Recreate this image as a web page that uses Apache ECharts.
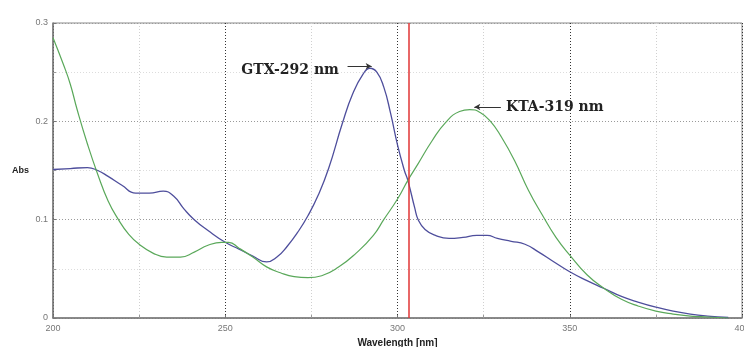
<!DOCTYPE html>
<html>
<head>
<meta charset="utf-8">
<script src="https://cdn.jsdelivr.net/npm/echarts@6/dist/echarts.min.js"></script>
<style>
    html, body { margin: 0; padding: 0; background: #fff; }
    #spectrum { width: 744px; height: 347px; }
</style>
</head>
<body>
<div id="spectrum"></div>
<script>
// GTX (blue) spectrum
var gtxWave = [200, 205, 210, 213, 216, 220, 224, 228, 232, 235, 238, 241, 245, 250, 254, 258, 262, 265, 268, 271, 274, 277, 280, 284, 287, 290, 292, 294, 296, 298, 300, 302, 303, 305, 306, 308, 311, 315, 319, 323, 326, 329, 333, 337, 341, 345, 350, 355, 360, 365, 370, 375, 380, 385, 390, 396];
var gtxAbs  = [0.151, 0.152, 0.153, 0.150, 0.144, 0.135, 0.127, 0.127, 0.129, 0.124, 0.111, 0.100, 0.089, 0.077, 0.070, 0.063, 0.057, 0.062, 0.073, 0.087, 0.104, 0.125, 0.152, 0.198, 0.228, 0.248, 0.254, 0.250, 0.235, 0.208, 0.176, 0.150, 0.140, 0.112, 0.100, 0.090, 0.084, 0.081, 0.082, 0.084, 0.084, 0.081, 0.078, 0.075, 0.067, 0.058, 0.047, 0.038, 0.030, 0.022, 0.016, 0.011, 0.007, 0.004, 0.002, 0.0005];
// KTA (green) spectrum
var ktaWave = [200, 203, 205, 207, 210, 213, 216, 219, 222, 225, 229, 233, 237, 241, 245, 249, 251, 254, 258, 262, 266, 270, 274, 278, 283, 288, 293, 296, 300, 303, 306, 310, 314, 318, 321, 324, 327, 330, 334, 338, 342, 346, 350, 355, 360, 365, 370, 375, 380, 385, 390, 396];
var ktaAbs  = [0.285, 0.258, 0.238, 0.212, 0.177, 0.146, 0.119, 0.100, 0.085, 0.075, 0.066, 0.062, 0.062, 0.067, 0.074, 0.077, 0.077, 0.071, 0.062, 0.052, 0.046, 0.042, 0.041, 0.043, 0.052, 0.066, 0.084, 0.100, 0.121, 0.140, 0.157, 0.180, 0.199, 0.210, 0.212, 0.209, 0.200, 0.185, 0.160, 0.130, 0.105, 0.082, 0.064, 0.044, 0.030, 0.019, 0.012, 0.007, 0.004, 0.002, 0.001, 0.0];

var markerWave = 303.2;   // red vertical cursor
var gtxPeak = { text: 'GTX-292 nm', at: [283, 0.252], arrow: [[285.5, 0.256], [292.5, 0.256]] };
var ktaPeak = { text: 'KTA-319 nm', at: [331.5, 0.2146], arrow: [[330, 0.2146], [322.3, 0.2146]] };

function zip(xs, ys) {
    var out = [];
    for (var i = 0; i < xs.length; i++) out.push([xs[i], ys[i]]);
    return out;
}

(function () {
    var chart = echarts.init(document.getElementById('spectrum'));
    var peakLabel = {
        show: true,
        fontFamily: 'DejaVu Serif',
        fontWeight: 'bold',
        fontSize: 14,
        color: '#222'
    };
    var option = {
        animation: false,
        grid: {
            left: 53, right: 2, top: 23, bottom: 29,
            outerBoundsMode: 'none',
            show: true, borderColor: '#8a8a8a', borderWidth: 1
        },
        xAxis: {
            type: 'value',
            min: 200, max: 400, interval: 50,
            name: 'Wavelength [nm]',
            nameLocation: 'middle',
            nameGap: 19,
            nameTextStyle: { fontFamily: 'Liberation Sans', fontWeight: 'bold', fontSize: 10, color: '#222' },
            axisLine: { lineStyle: { color: '#777', width: 1.5 } },
            axisTick: { show: true, inside: true, length: 3, lineStyle: { color: '#777' } },
            minorTick: { show: true, splitNumber: 2, length: 3, lineStyle: { color: '#999' } },
            axisLabel: { fontFamily: 'Liberation Sans', fontSize: 9, color: '#777', margin: 6 },
            splitLine: { show: true, lineStyle: { color: '#333', type: [1, 2], width: 1 } },
            minorSplitLine: { show: true, lineStyle: { color: '#d0d0d0', type: [1, 2] } }
        },
        yAxis: {
            type: 'value',
            min: 0, max: 0.3, interval: 0.1,
            name: 'Abs',
            nameLocation: 'middle',
            nameRotate: 0,
            nameGap: 24,
            nameTextStyle: { fontFamily: 'Liberation Sans', fontWeight: 'bold', fontSize: 9, color: '#222' },
            axisLine: { show: true, lineStyle: { color: '#777', width: 1.5 } },
            axisTick: { show: true, inside: true, length: 3, lineStyle: { color: '#777' } },
            minorTick: { show: true, splitNumber: 2, length: 3, lineStyle: { color: '#999' } },
            axisLabel: {
                fontFamily: 'Liberation Sans', fontSize: 9, color: '#777', margin: 5,
                formatter: function (v) { return v === 0 ? '0' : v.toFixed(1); }
            },
            splitLine: { show: true, lineStyle: { color: '#9a9a9a', type: [1, 2] } },
            minorSplitLine: { show: true, lineStyle: { color: '#dcdcdc', type: [1, 2] } }
        },
        series: [
            {
                name: 'GTX',
                type: 'line',
                data: zip(gtxWave, gtxAbs),
                smooth: 0.5,
                showSymbol: false,
                lineStyle: { color: '#4e4e9c', width: 1.3 },
                markLine: {
                    silent: true,
                    symbol: 'none',
                    label: { show: false },
                    data: [
                        { xAxis: markerWave, lineStyle: { color: '#e03434', width: 1.5, type: 'solid' } },
                        [
                            { coord: gtxPeak.arrow[0], symbol: 'none', lineStyle: { color: '#333', width: 1, type: 'solid' } },
                            { coord: gtxPeak.arrow[1], symbol: 'arrow', symbolSize: [5, 6] }
                        ],
                        [
                            { coord: ktaPeak.arrow[0], symbol: 'none', lineStyle: { color: '#333', width: 1, type: 'solid' } },
                            { coord: ktaPeak.arrow[1], symbol: 'arrow', symbolSize: [5, 6] }
                        ]
                    ]
                },
                markPoint: {
                    silent: true,
                    symbol: 'circle',
                    symbolSize: 0,
                    data: [
                        { coord: gtxPeak.at, label: Object.assign({ formatter: gtxPeak.text, position: 'left', distance: 0 }, peakLabel) },
                        { coord: ktaPeak.at, label: Object.assign({ formatter: ktaPeak.text, position: 'right', distance: 0 }, peakLabel) }
                    ]
                }
            },
            {
                name: 'KTA',
                type: 'line',
                data: zip(ktaWave, ktaAbs),
                smooth: 0.5,
                showSymbol: false,
                lineStyle: { color: '#5aa85a', width: 1.2 }
            }
        ]
    };
    chart.setOption(option);
    window.addEventListener('resize', chart.resize);
})();
</script>
</body>
</html>
